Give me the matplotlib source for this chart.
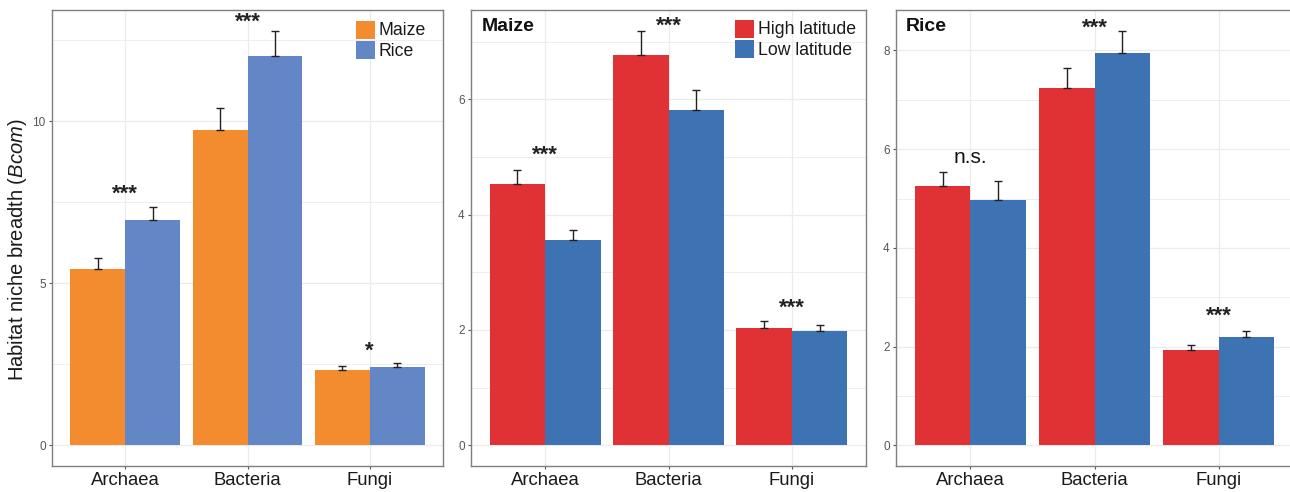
import matplotlib
matplotlib.use("Agg")
import matplotlib.pyplot as plt
from matplotlib.patches import Patch
from matplotlib.ticker import MultipleLocator
import numpy as np

plt.rcParams['font.family'] = ['Liberation Sans', 'DejaVu Sans']
plt.rcParams['mathtext.fontset'] = 'custom'
plt.rcParams['mathtext.it'] = 'Liberation Sans:italic'
plt.rcParams['mathtext.rm'] = 'Liberation Sans'

categories = ["Archaea", "Bacteria", "Fungi"]

# Panel 1: Maize vs Rice
p1_groups = ["Maize", "Rice"]
p1_maize = [5.44, 9.74, 2.33]
p1_maize_se = [0.34, 0.67, 0.13]
p1_rice = [6.94, 12.02, 2.41]
p1_rice_se = [0.41, 0.77, 0.12]
p1_sig = ["***", "***", "*"]
p1_sig_y = [7.57, 12.87, 2.73]

# Panel 2: Maize, High vs Low latitude
lat_groups = ["High latitude", "Low latitude"]
p2_high = [4.54, 6.77, 2.04]
p2_high_se = [0.23, 0.42, 0.12]
p2_low = [3.56, 5.82, 1.98]
p2_low_se = [0.17, 0.34, 0.11]
p2_sig = ["***", "***", "***"]
p2_sig_y = [4.94, 7.18, 2.28]

# Panel 3: Rice, High vs Low latitude
p3_high = [5.26, 7.23, 1.93]
p3_high_se = [0.28, 0.42, 0.10]
p3_low = [4.97, 7.94, 2.20]
p3_low_se = [0.39, 0.46, 0.11]
p3_sig = ["n.s.", "***", "***"]
p3_sig_y = [5.71, 8.34, 2.50]

W, H = 1290, 492
fig = plt.figure(figsize=(W / 100, H / 100), dpi=100)

def px_axes(left, right, top, bottom):
    return fig.add_axes([left / W, (H - bottom) / H, (right - left) / W, (bottom - top) / H])

GRID = '#EBEBEB'
BORDER = '#7F7F7F'

def draw_panel(ax, a, a_se, b, b_se, colors, labels, sig, sig_y, major, minor):
    x = np.arange(1, len(categories) + 1)
    w = 0.45
    ax.bar(x - w / 2, a, width=w, color=colors[0], zorder=2, linewidth=0)
    ax.bar(x + w / 2, b, width=w, color=colors[1], zorder=2, linewidth=0)
    ax.errorbar(x - w / 2, a, yerr=[np.zeros(len(a)), a_se], fmt='none',
                ecolor='#222222', elinewidth=1.0, capsize=2.6, capthick=1.0, zorder=3)
    ax.errorbar(x + w / 2, b, yerr=[np.zeros(len(b)), b_se], fmt='none',
                ecolor='#222222', elinewidth=1.0, capsize=2.6, capthick=1.0, zorder=3)
    tops = np.concatenate([np.array(a) + np.array(a_se), np.array(b) + np.array(b_se)])
    ymax = tops.max()
    ax.set_ylim(-0.05 * ymax, ymax * 1.05)
    ax.set_xlim(0.4, 3.6)
    ax.set_xticks(x)
    ax.set_xticklabels(categories, fontsize=13.3, color='#1A1A1A')
    ax.yaxis.set_major_locator(MultipleLocator(major))
    ax.yaxis.set_minor_locator(MultipleLocator(minor))
    ax.tick_params(axis='y', which='major', labelsize=8.5, labelcolor='#555555',
                   color='#555555', length=2.5, width=0.8, pad=2)
    ax.tick_params(axis='y', which='minor', length=0)
    ax.tick_params(axis='x', which='major', color='#555555', length=2.5, width=0.8, pad=2)
    ax.grid(True, which='major', color=GRID, linewidth=0.9, zorder=0)
    ax.grid(True, which='minor', axis='y', color=GRID, linewidth=0.6, zorder=0)
    ax.set_axisbelow(True)
    for s in ax.spines.values():
        s.set_color(BORDER)
        s.set_linewidth(1.0)
    for xi, t, yv in zip(x, sig, sig_y):
        if '*' in t:
            ax.text(xi, yv, t, ha='center', va='baseline', fontsize=16,
                    fontweight='bold', color='#222222', zorder=4)
        else:
            ax.text(xi, yv, t, ha='center', va='baseline', fontsize=15,
                    color='#111111', zorder=4)

def add_legend(ax, colors, labels, anchor):
    handles = [Patch(facecolor=c, edgecolor='none') for c in colors]
    leg = ax.legend(handles, labels, loc='upper left', bbox_to_anchor=anchor,
                    frameon=False, fontsize=12.7, handlelength=1.1, handleheight=1.2,
                    handletextpad=0.2, labelspacing=0.08, borderpad=0.0, borderaxespad=0.0)
    for t in leg.get_texts():
        t.set_color('#1A1A1A')
    return leg

c_maize, c_rice = '#F28C2E', '#6386C6'
c_high, c_low = '#E03134', '#3D73B3'

ax1 = px_axes(52, 443, 10, 466)
draw_panel(ax1, p1_maize, p1_maize_se, p1_rice, p1_rice_se, [c_maize, c_rice], p1_groups,
           p1_sig, p1_sig_y, 5, 2.5)
add_legend(ax1, [c_maize, c_rice], p1_groups, ((356 - 52) / 391, (466 - 20.5) / 456))
ax1.set_ylabel(r"Habitat niche breadth ($\mathit{Bcom}$)", fontsize=14.5, color='#1A1A1A')
ax1.yaxis.set_label_coords((29 - 52) / 391, 0.474)

ax2 = px_axes(471, 866, 10, 466)
draw_panel(ax2, p2_high, p2_high_se, p2_low, p2_low_se, [c_high, c_low], lat_groups,
           p2_sig, p2_sig_y, 2, 1)
add_legend(ax2, [c_high, c_low], lat_groups, ((735 - 471) / 395, (466 - 19.5) / 456))
ax2.text((481.7 - 471) / 395, (466 - 26.7) / 456, "Maize", transform=ax2.transAxes,
         fontsize=14, fontweight='bold', ha='left', va='center', color='#111111')

ax3 = px_axes(896, 1293, 10, 466)
draw_panel(ax3, p3_high, p3_high_se, p3_low, p3_low_se, [c_high, c_low], lat_groups,
           p3_sig, p3_sig_y, 2, 1)
ax3.text((906 - 896) / 397, (466 - 26.7) / 456, "Rice", transform=ax3.transAxes,
         fontsize=14, fontweight='bold', ha='left', va='center', color='#111111')

fig.savefig("out.png", dpi=100)
